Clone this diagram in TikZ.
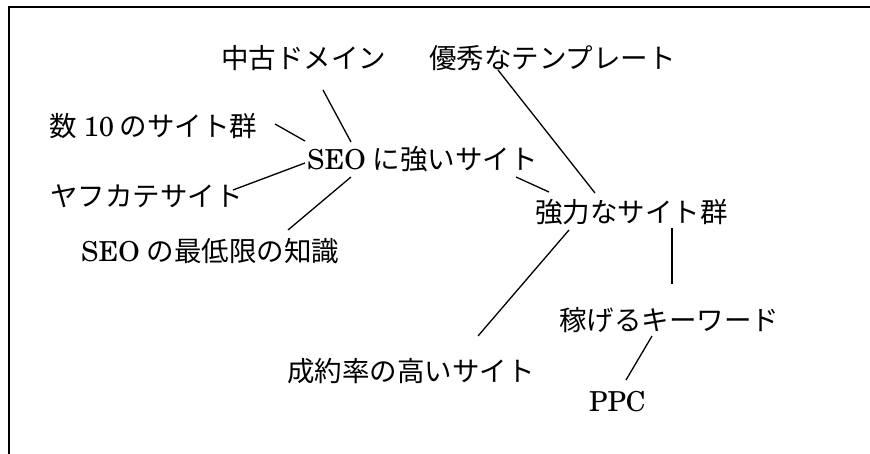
\documentclass[tikz,border=0pt]{standalone}
\usepackage{fontspec}
\newfontfamily\jp{Noto Sans CJK JP}
\newfontfamily\latf{TeX Gyre Schola}
\newcommand{\lat}{\latf\fontsize{27.5}{27.5}\selectfont}
\newcommand{\jl}{\hspace{0.25em}}
\tikzset{
  lbl/.style={inner sep=0pt, anchor=west, text height=0.88em, text depth=0.12em,
    font=\fontsize{27.5}{27.5}\selectfont\jp},
  conn/.style={line width=1.3pt},
  frame/.style={line width=2pt}
}
\begin{document}
\begin{tikzpicture}[x=1pt,y=-1pt]
\useasboundingbox (0,0) rectangle (870,454);
\clip (0,0) rectangle (870,454);
\draw[frame] (9,7.5) rectangle (890,480);

\node[lbl] (chuko) at (221,65) {中古ドメイン};
\node[lbl] (yushu) at (429,65) {優秀なテンプレート};
\node[lbl] (su10) at (49,133) {数\jl{\lat 10}\hspace{0.2em}のサイト群};
\node[lbl] (seo) at (307,166) {{\lat SEO}\jl に強いサイト};
\node[lbl] (yafu) at (50,203) {ヤフカテサイト};
\node[lbl] (saitei) at (81,258) {{\lat SEO}\jl の最低限の知識};
\node[lbl] (kyo) at (535,219) {強力なサイト群};
\node[lbl] (kase) at (559,327) {稼げるキーワード};
\node[lbl] (seiy) at (287,378) {成約率の高いサイト};
\node[lbl] (ppc) at (589,408) {{\lat PPC}};

\coordinate (chuko-e) at (323,90);
\coordinate (seo-n) at (351,142);
\coordinate (su10-e) at (275,124);
\coordinate (seo-w1) at (305,141);
\coordinate (yafu-e) at (233,190);
\coordinate (seo-w2) at (305,163);
\coordinate (saitei-e) at (288,230);
\coordinate (seo-s) at (351,177);
\coordinate (seo-e) at (516,177);
\coordinate (kyo-w) at (549,192);
\coordinate (yushu-s) at (498,70);
\coordinate (kyo-n) at (595,193);
\coordinate (kyo-s1) at (569,230);
\coordinate (seiy-n) at (478,336);
\coordinate (kyo-s2) at (672,228);
\coordinate (kase-n) at (672,284);
\coordinate (kase-s) at (652,336);
\coordinate (ppc-n) at (626,380);

\draw[conn] (chuko-e) -- (seo-n);
\draw[conn] (su10-e) -- (seo-w1);
\draw[conn] (yafu-e) -- (seo-w2);
\draw[conn] (saitei-e) -- (seo-s);
\draw[conn] (seo-e) -- (kyo-w);
\draw[conn] (yushu-s) -- (kyo-n);
\draw[conn] (kyo-s1) -- (seiy-n);
\draw[conn] (kyo-s2) -- (kase-n);
\draw[conn] (kase-s) -- (ppc-n);
\end{tikzpicture}
\end{document}
